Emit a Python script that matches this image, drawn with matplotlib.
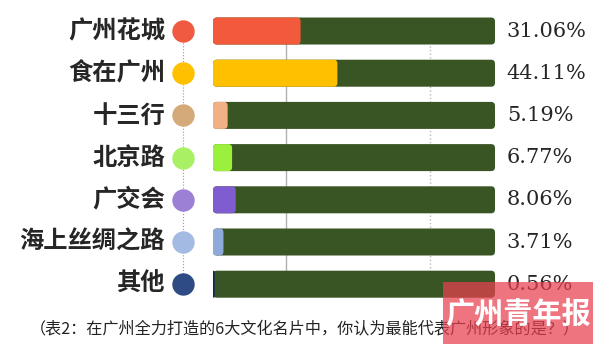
import matplotlib
matplotlib.use("Agg")
import matplotlib.pyplot as plt
from matplotlib.patches import FancyBboxPatch, Rectangle

plt.rcParams['font.family'] = ['Noto Sans CJK SC', 'DejaVu Sans']

names = ['广州花城', '食在广州', '十三行', '北京路', '广交会', '海上丝绸之路', '其他']
values = [31.06, 44.11, 5.19, 6.77, 8.06, 3.71, 0.56]
fill_colors = ['#f25a3b', '#ffc000', '#f2b085', '#9bf03c', '#7f5ccf', '#8eaadb', '#0b2566']
dot_colors = ['#f05a40', '#ffc000', '#d4aa78', '#aaf065', '#9b80d6', '#a3bbe3', '#2f4b85']
caption = '（表2：在广州全力打造的6大文化名片中，你认为最能代表广州形象的是？）'

track = '#3a5524'

fig = plt.figure(figsize=(6, 3.44), dpi=100)
ax = fig.add_axes([213/600, 0.1125, 282/600, 0.8587])
ax.set_xlim(0, 100)
ax.set_ylim(6.5, -0.5)
ax.axis('off')

# px -> data scale for rounded corners
asp = (1/42.2) / (1/2.82)
h = 0.64

# guide lines
ax.plot([26, 26], [0, 6], color='#b0b0b0', lw=1, zorder=0)
ax.plot([77, 77], [0, 6], color='#b8b8b8', lw=1, ls=':', zorder=0)
ax.plot([-10.6, -10.6], [0, 6], color='#999999', lw=0.8, ls=':', zorder=0, clip_on=False)

for i, (n, v) in enumerate(zip(names, values)):
    bg = FancyBboxPatch((0, i - h/2), 100, h, boxstyle='round,pad=0,rounding_size=1.4',
                        mutation_aspect=asp, fc=track, ec='none', zorder=1)
    ax.add_patch(bg)
    rs = min(1.4, v / 2)
    fg = FancyBboxPatch((0, i - h/2), v, h, boxstyle='round,pad=0,rounding_size=%f' % rs,
                        mutation_aspect=asp, fc=fill_colors[i], ec='none', zorder=2)
    ax.add_patch(fg)
    ax.scatter([-10.6], [i], s=260, color=dot_colors[i], zorder=3, clip_on=False, lw=0)
    ax.text(-17, i, n, ha='right', va='center', fontsize=17.5, fontweight='bold',
            color='#262626')
    ax.text(104.2, i, '%.2f%%' % v, ha='left', va='center', fontsize=15,
            family='DejaVu Serif', color='#262626')

fig.text(305/600, 1 - 329/344, caption, ha='center', va='center', fontsize=11.6, color='#222222')

# newspaper mark
fig.patches.append(Rectangle((443/600, 0), 150/600, 62/344, transform=fig.transFigure,
                             fc='#e8404f', alpha=0.72, ec='none', zorder=5))
fig.text(518/600, 1 - 314/344, '广州青年报', ha='center', va='center', fontsize=21,
         fontweight='bold', style='italic', color='white', zorder=6)

fig.savefig('out.png', dpi=100)
